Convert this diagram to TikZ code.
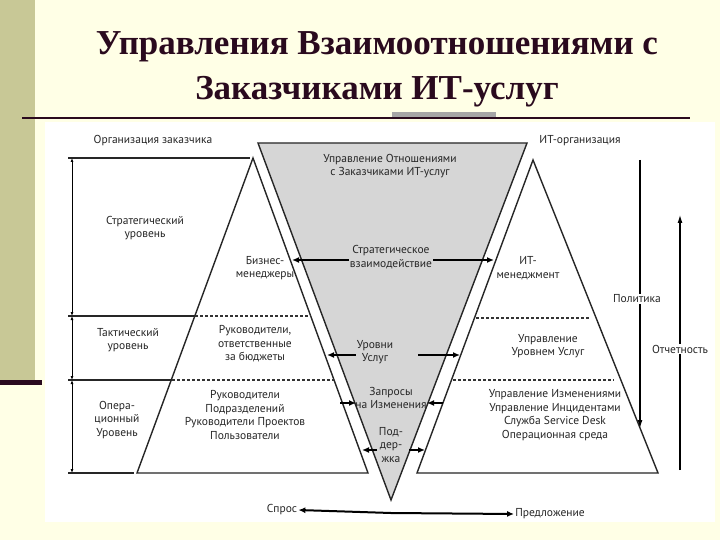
\documentclass[tikz,border=0pt]{standalone}
\usepackage{fontspec}
\setmainfont{Liberation Serif}
\newfontfamily\dsans{PT Sans}
\usetikzlibrary{arrows.meta}
\definecolor{cream}{HTML}{FFFFE6}
\definecolor{olive}{HTML}{C8C896}
\definecolor{darkp}{HTML}{2A0A1E}
\begin{document}
\begin{tikzpicture}[x=1pt,y=-1pt,
  lbl/.style={font=\dsans\fontsize{11.5}{13.5}\selectfont, align=center, inner sep=1pt, text=black!85},
  edge/.style={line width=1.4pt, black!85},
  lvl/.style={line width=1.3pt, black!85},
  dsh/.style={line width=1.2pt, dashed, dash pattern=on 3pt off 2pt, black!80},
  arr/.style={line width=2pt, -{Latex[length=7pt,width=6pt]}},
  darr/.style={line width=0.8pt, {Latex[length=4pt,width=3pt]}-{Latex[length=4pt,width=3pt]}},
  thinar/.style={line width=1.1pt, -{Latex[length=8pt,width=5pt]}}]
\useasboundingbox (0,0) rectangle (720,540);
\fill[cream] (0,0) rectangle (720,540);
\fill[olive] (0,0) rectangle (35,381);
\fill[darkp] (0,380) rectangle (42,385);
\fill[white] (45,122) rectangle (715,522);
\fill[black!35] (392,112) rectangle (496,117);
\draw[line width=1.3pt, darkp] (22,118) -- (690,118);
\node[font=\bfseries\fontsize{35}{45}\selectfont, text=darkp, align=center] (title) at (377,69) {Управления Взаимоотношениями с\\Заказчиками ИТ-услуг};

\coordinate (LA) at (253,158); \coordinate (LB1) at (137,473); \coordinate (LB2) at (368,473);
\coordinate (IA) at (258,143); \coordinate (IB) at (527,143); \coordinate (IC) at (391,500);
\coordinate (RA) at (533,160); \coordinate (RB1) at (417,473); \coordinate (RB2) at (658,473);

\filldraw[fill=black!16, draw=black!85, line width=1.4pt] (IA) -- (IB) -- (IC) -- cycle;
\draw[edge] (LB1) -- (LA) -- (LB2) -- cycle;
\draw[edge] (RB1) -- (RA) -- (RB2) -- cycle;

\coordinate (L0) at (68,158); \coordinate (L0e) at (250,158);
\coordinate (L1) at (68,316); \coordinate (L1a) at (195,316); \coordinate (L1b) at (311,316);
\coordinate (L2) at (68,380); \coordinate (L2a) at (172,380); \coordinate (L2b) at (334,380);
\coordinate (L3) at (68,473); \coordinate (L3e) at (134,473);
\draw[lvl] (L0) -- (L0e);
\draw[lvl] (L1) -- (L1a); \draw[dsh] (L1a) -- (L1b);
\draw[lvl] (L2) -- (L2a); \draw[dsh] (L2a) -- (L2b);
\draw[lvl] (L3) -- (L3e);
\coordinate (V0) at (72,158); \coordinate (V1) at (72,316); \coordinate (V2) at (72,380); \coordinate (V3) at (72,473);
\draw[darr] (V0) -- (V1);
\draw[darr] (V1) -- (V2);
\draw[darr] (V2) -- (V3);
\coordinate (R1a) at (476,318); \coordinate (R1b) at (590,318);
\coordinate (R2a) at (453,380); \coordinate (R2b) at (614,380);
\draw[dsh] (R1a) -- (R1b);
\draw[dsh] (R2a) -- (R2b);

\coordinate (polT) at (640,160); \coordinate (polB) at (640,428);
\draw[thinar] (polT) -- (polB);
\coordinate (otT) at (680,215); \coordinate (otB) at (680,470);
\draw[thinar] (otB) -- (otT);

\node[lbl] (org) at (153,141) {Организация заказчика};
\node[lbl] (ito) at (580,141) {ИТ-организация};
\node[lbl] (str) at (145,228) {Стратегический\\уровень};
\node[lbl] (tac) at (128,340) {Тактический\\уровень};
\node[lbl] (ope) at (117,420) {Опера-\\ционный\\Уровень};
\node[lbl] (bm) at (265,268) {Бизнес-\\менеджеры};
\node[lbl] (rb) at (255,344) {Руководители,\\ответственные\\за бюджеты};
\node[lbl] (rp) at (245,415) {Руководители\\Подразделений\\Руководители Проектов\\Пользователи};
\node[lbl] (im) at (528,268) {ИТ-\\менеджмент};
\node[lbl] (uu) at (548,346) {Управление\\Уровнем Услуг};
\node[lbl] (ui) at (555,415) {Управление Изменениями\\Управление Инцидентами\\Служба Service Desk\\Операционная среда};
\node[lbl] (urm) at (390,166) {Управление Отношениями\\с Заказчиками ИТ-услуг};
\node[lbl] (sv) at (391,257) {Стратегическое\\взаимодействие};
\node[lbl] (us) at (375,352) {Уровни\\Услуг};
\node[lbl] (zi) at (391,398) {Запросы\\на Изменения};
\node[lbl] (pd) at (391,445) {Под-\\дер-\\жка};
\node[lbl, fill=white] (pol) at (637,299) {Политика};
\node[lbl, fill=white] (otc) at (680,349) {Отчетность};
\node[lbl] (spr) at (282,510) {Спрос};
\node[lbl] (pre) at (550,514) {Предложение};

\coordinate (s1) at (292,260); \coordinate (s2) at (494,260);
\draw[arr] (sv.west |- s1) -- (s1);
\draw[arr] (sv.east |- s2) -- (s2);
\coordinate (u1) at (327,355); \coordinate (u2) at (460,355);
\draw[arr] (us.west |- u1) -- (u1);
\coordinate (u2s) at (418,355);
\draw[arr] (u2s) -- (u2);
\coordinate (z1) at (340,403); \coordinate (z1b) at (356,403);
\coordinate (z2) at (443,403); \coordinate (z2b) at (427,403);
\draw[arr] (z1) -- (z1b);
\draw[arr] (z2) -- (z2b);
\coordinate (p1) at (377,450); \coordinate (p1b) at (362,450);
\coordinate (p2) at (409,450); \coordinate (p2b) at (425,450);
\draw[arr] (p1) -- (p1b);
\draw[arr] (p2) -- (p2b);
\coordinate (mid) at (391,513);
\draw[arr] (mid) -- (spr.east);
\draw[arr] (mid) -- (pre.west);
\end{tikzpicture}
\end{document}
